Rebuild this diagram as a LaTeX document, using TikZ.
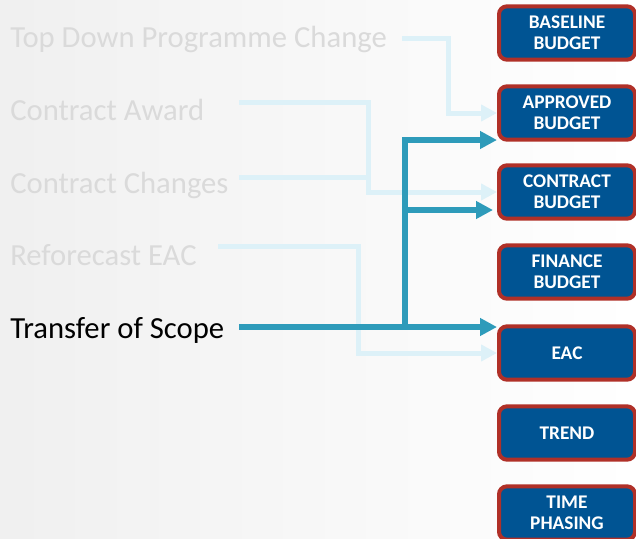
\documentclass[tikz,border=0pt]{standalone}
\usepackage{fontspec}
\setmainfont{Carlito}
\usetikzlibrary{arrows.meta,calc}
\definecolor{boxblue}{RGB}{0,84,147}
\definecolor{boxred}{RGB}{176,48,40}
\definecolor{scopeteal}{RGB}{46,155,186}
\definecolor{palecyan}{RGB}{221,241,248}
\definecolor{fadegray}{RGB}{218,218,218}

\begin{document}
\begin{tikzpicture}[x=0.75pt,y=-0.75pt,line join=miter,
  box/.style={draw=boxred,line width=3pt,fill=boxblue,rounded corners=6pt,text=white,
    font=\fontsize{14.5}{16}\selectfont\bfseries,align=center,
    minimum width=102pt,minimum height=40pt,inner sep=0pt},
  lbl/.style={anchor=base west,inner sep=0pt,font=\fontsize{23}{27}\selectfont,text=fadegray},
  lite/.style={draw=palecyan,line width=3.75pt,-{Triangle[length=12pt,width=12pt]}},
  dark/.style={draw=scopeteal,line width=4pt,-{Triangle[length=12.75pt,width=12.75pt]}}]
  \clip (0,0) rectangle (636,539);
  \shade[left color=black!6,right color=white] (0,0) rectangle (636,539);

  % budget boxes
  \node[box] (baseline) at (567,33) {BASELINE\\BUDGET};
  \node[box] (approved) at (567,113) {APPROVED\\BUDGET};
  \node[box] (contract) at (567,192) {CONTRACT\\BUDGET};
  \node[box] (finance) at (567,272) {FINANCE\\BUDGET};
  \node[box] (eac) at (567,353) {EAC};
  \node[box] (trend) at (567,433) {TREND};
  \node[box] (phasing) at (567,513) {TIME\\PHASING};

  % change types
  \node[lbl] (topdown) at (10,47) {Top Down Programme Change};
  \node[lbl] (award) at (10,120) {Contract Award};
  \node[lbl] (changes) at (10,193) {Contract Changes};
  \node[lbl] (refcast) at (10,265) {Reforecast EAC};
  \node[lbl,text=black] (transfer) at (10,338) {Transfer of Scope};

  \coordinate (tdout) at (402,38);
  \coordinate (caout) at (239,102);
  \coordinate (ccout) at (239,177);
  \coordinate (rfout) at (218,246);
  \coordinate (tsout) at (239,327);
  \coordinate (split) at (405,140);
  \coordinate (split2) at (405,210);

  \draw[lite] (tdout) -- ++(46,0) |- (approved.west);
  \draw[lite] (caout) -- ++(129,0) |- (contract.west);
  \draw[lite,-] (ccout) -- ++(129,0);
  \draw[lite] (rfout) -- ++(140,0) |- (eac.west);

  \draw[dark] (tsout) -- (tsout -| eac.west);
  \draw[dark] (split |- tsout) -- (split) -- (split -| approved.west);
  \draw[dark] (split2) -- ([xshift=-3pt]split2 -| contract.west);
\end{tikzpicture}
\end{document}
